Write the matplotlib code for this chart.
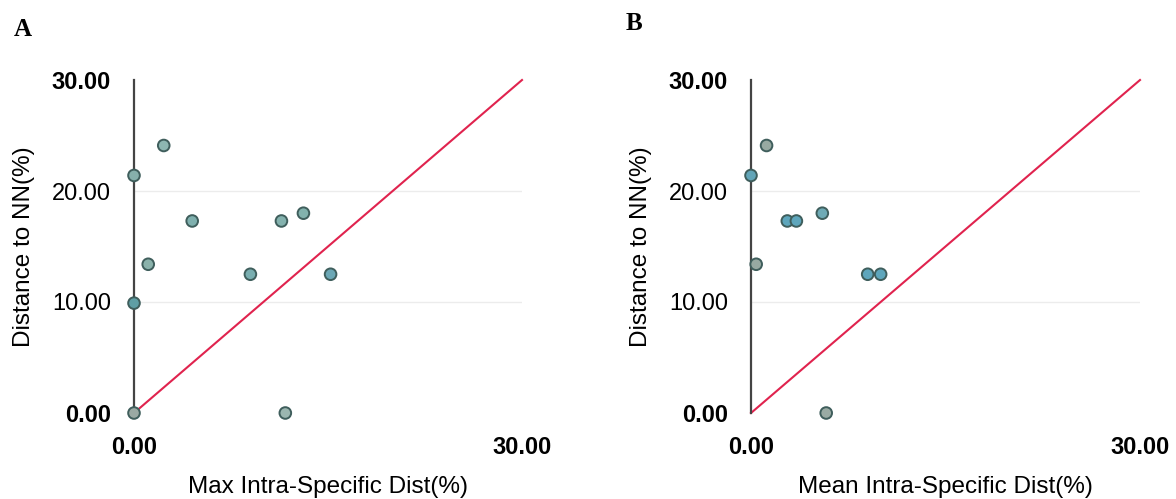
import matplotlib
matplotlib.use("Agg")
import matplotlib.pyplot as plt

# Panel A: max intra-specific distance vs distance to nearest neighbour
max_intra = [0.0, 2.3, 0.0, 1.1, 4.5, 9.0, 11.4, 13.1, 15.2, 11.7, 0.0]
nn_a = [21.4, 24.1, 9.9, 13.4, 17.3, 12.5, 17.3, 18.0, 12.5, 0.0, 0.0]

# Panel B: mean intra-specific distance vs distance to nearest neighbour
mean_intra = [0.0, 1.2, 0.4, 2.8, 3.5, 5.5, 9.0, 10.0, 5.8]
nn_b = [21.4, 24.1, 13.4, 17.3, 17.3, 18.0, 12.5, 12.5, 0.0]

ticks = [0, 10, 20, 30]
tick_labels = ["0.00", "10.00", "20.00", "30.00"]

plt.rcParams['font.family'] = ['Liberation Sans', 'DejaVu Sans']

fig = plt.figure(figsize=(11.76, 4.99), dpi=100)

W, H = 1176, 499
def add_axes(x0, x1, y_top, y_bot):
    return fig.add_axes([x0 / W, 1 - y_bot / H, (x1 - x0) / W, (y_bot - y_top) / H])

axA = add_axes(134, 522, 80, 413)
axB = add_axes(751, 1140, 80, 413)

panels = [
    (axA, max_intra, nn_a, "Max Intra-Specific Dist(%)", "A", 14, 29,
     ['#86b0ac', '#8db7b2', '#5f9fa5', '#8ab2ab', '#7fb0ae', '#79aeb0', '#84b2ae', '#82b2ad', '#6ba7b5', '#9bb6b0', '#9aa9a3']),
    (axB, mean_intra, nn_b, "Mean Intra-Specific Dist(%)", "B", 626, 24,
     ['#62a5b8', '#98aaa2', '#97a9a2', '#5ea6bc', '#5ea6bc', '#6eaab5', '#5ea6bc', '#5ea6bc', '#9aaba4']),
]

for ax, xs, ys, xlabel, letter, lx, ly, cols in panels:
    ax.set_xlim(0, 30)
    ax.set_ylim(0, 30)
    for t in [10, 20]:
        ax.axhline(t, color='#ececec', lw=1.0, zorder=0)
    ax.plot([0, 30], [0, 30], color='#e0234e', lw=1.5, zorder=2, clip_on=False)
    ax.scatter(xs, ys, s=70, c=cols, edgecolors='#3f5e5c', linewidths=1.4,
               zorder=3, clip_on=False)
    for s in ['top', 'right', 'bottom']:
        ax.spines[s].set_visible(False)
    ax.spines['left'].set_color('#444444')
    ax.spines['left'].set_linewidth(1.6)
    ax.set_yticks(ticks)
    ax.set_yticklabels(tick_labels, fontsize=17)
    for lab, t in zip(ax.get_yticklabels(), ticks):
        if t in (0, 30):
            lab.set_fontweight('bold')
    ax.set_xticks([0, 30])
    ax.set_xticklabels(["0.00", "30.00"], fontsize=17, fontweight='bold')
    ax.tick_params(axis='y', length=0, pad=16.5)
    ax.tick_params(axis='x', length=0, pad=16.5)
    ax.set_xlabel(xlabel, fontsize=17.5, labelpad=12)
    ax.set_ylabel("Distance to NN(%)", fontsize=17.5, labelpad=12)
    fig.text(lx / W, 1 - ly / H, letter, fontsize=18, fontweight='bold',
             family=['Liberation Serif', 'DejaVu Serif'], va='center', ha='left')

fig.savefig("out.png", dpi=100, facecolor='white')
